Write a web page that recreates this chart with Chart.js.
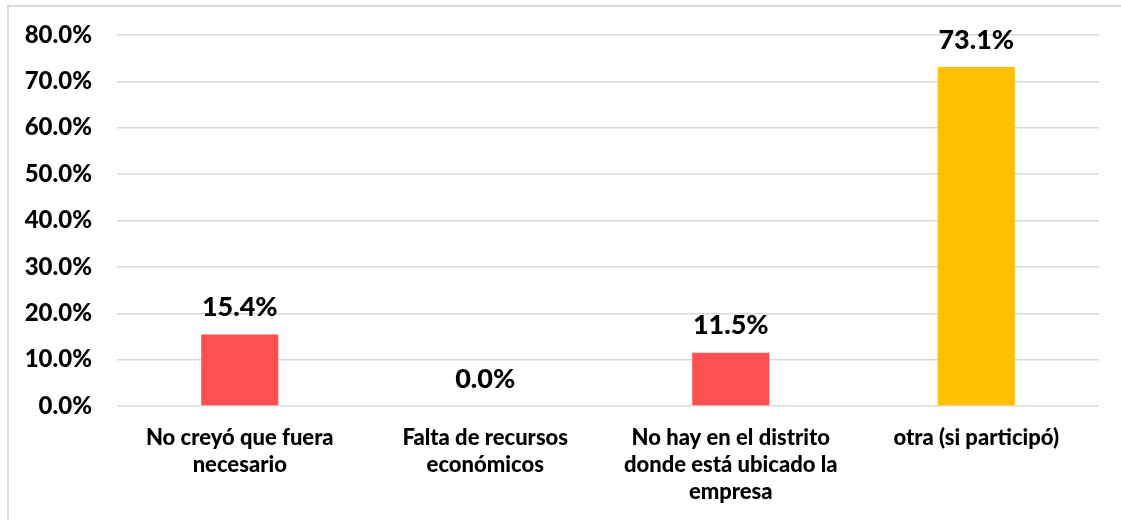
<!DOCTYPE html>
<html>
<head>
<meta charset="utf-8">
<script src="https://cdn.jsdelivr.net/npm/chart.js@4"></script>
<style>
  html, body { margin: 0; padding: 0; background: #fff; }
  #wrap { position: relative; width: 1121px; height: 520px; }
  #frame { position: absolute; left: 7px; top: 5px; right: -2px; bottom: -2px;
           border-top: 2px solid #d9d9d9; border-left: 2px solid #d9d9d9; }
  canvas { position: absolute; left: 0; top: 0; }
</style>
</head>
<body>
<div id="wrap">
  <div id="frame"></div>
  <canvas id="chart" width="1121" height="520"></canvas>
</div>
<script>
const categories = [
    ['No creyó que fuera', 'necesario'],
    ['Falta de recursos', 'económicos'],
    ['No hay en el distrito', 'donde está ubicado la', 'empresa'],
    ['otra (si participó)']
];
const values = [15.4, 0.0, 11.5, 73.1];
const barColors = ['#FF5050', '#FF5050', '#FF5050', '#FFC000'];
const yTicks = [0, 10, 20, 30, 40, 50, 60, 70, 80];

const FONT = 'Lato, Carlito, Calibri, sans-serif';

// Etiquetas de valor encima de cada barra
const valueLabels = {
    id: 'valueLabels',
    afterDatasetsDraw(chart) {
        const ctx = chart.ctx;
        const meta = chart.getDatasetMeta(0);
        ctx.save();
        ctx.font = '900 27px ' + FONT;
        ctx.fillStyle = '#000';
        ctx.textAlign = 'center';
        ctx.textBaseline = 'middle';
        meta.data.forEach((bar, i) => {
            ctx.fillText(values[i].toFixed(1) + '%', bar.x, bar.y - 27);
        });
        ctx.restore();
    }
};

new Chart(document.getElementById('chart'), {
    type: 'bar',
    data: {
        labels: categories,
        datasets: [{
            data: values,
            backgroundColor: barColors,
            barPercentage: 0.314,
            categoryPercentage: 1.0
        }]
    },
    options: {
        responsive: false,
        animation: false,
        layout: { padding: { top: 35, right: 22, left: 0, bottom: 0 } },
        plugins: {
            legend: { display: false },
            tooltip: { enabled: false }
        },
        scales: {
            x: {
                grid: { display: false, drawTicks: false },
                border: { display: false },
                ticks: {
                    color: '#000',
                    maxRotation: 0,
                    autoSkip: false,
                    padding: 18,
                    font: { family: FONT, size: 22, weight: 900, lineHeight: '27px' }
                },
                afterFit(scale) {
                    scale.height = 114;
                    scale.paddingLeft = 0;
                    scale.paddingRight = 0;
                }
            },
            y: {
                min: 0,
                max: 80,
                afterBuildTicks(scale) { scale.ticks = yTicks.map(v => ({ value: v })); },
                grid: { color: '#d9d9d9', lineWidth: 1.5, drawTicks: false },
                border: { display: false },
                ticks: {
                    color: '#000',
                    padding: 25,
                    font: { family: FONT, size: 24, weight: 900 },
                    callback: v => v.toFixed(1) + '%'
                },
                afterFit(scale) {
                    scale.width = 117;
                    scale.paddingTop = 0;
                    scale.paddingBottom = 0;
                }
            }
        }
    },
    plugins: [valueLabels]
});
</script>
</body>
</html>
